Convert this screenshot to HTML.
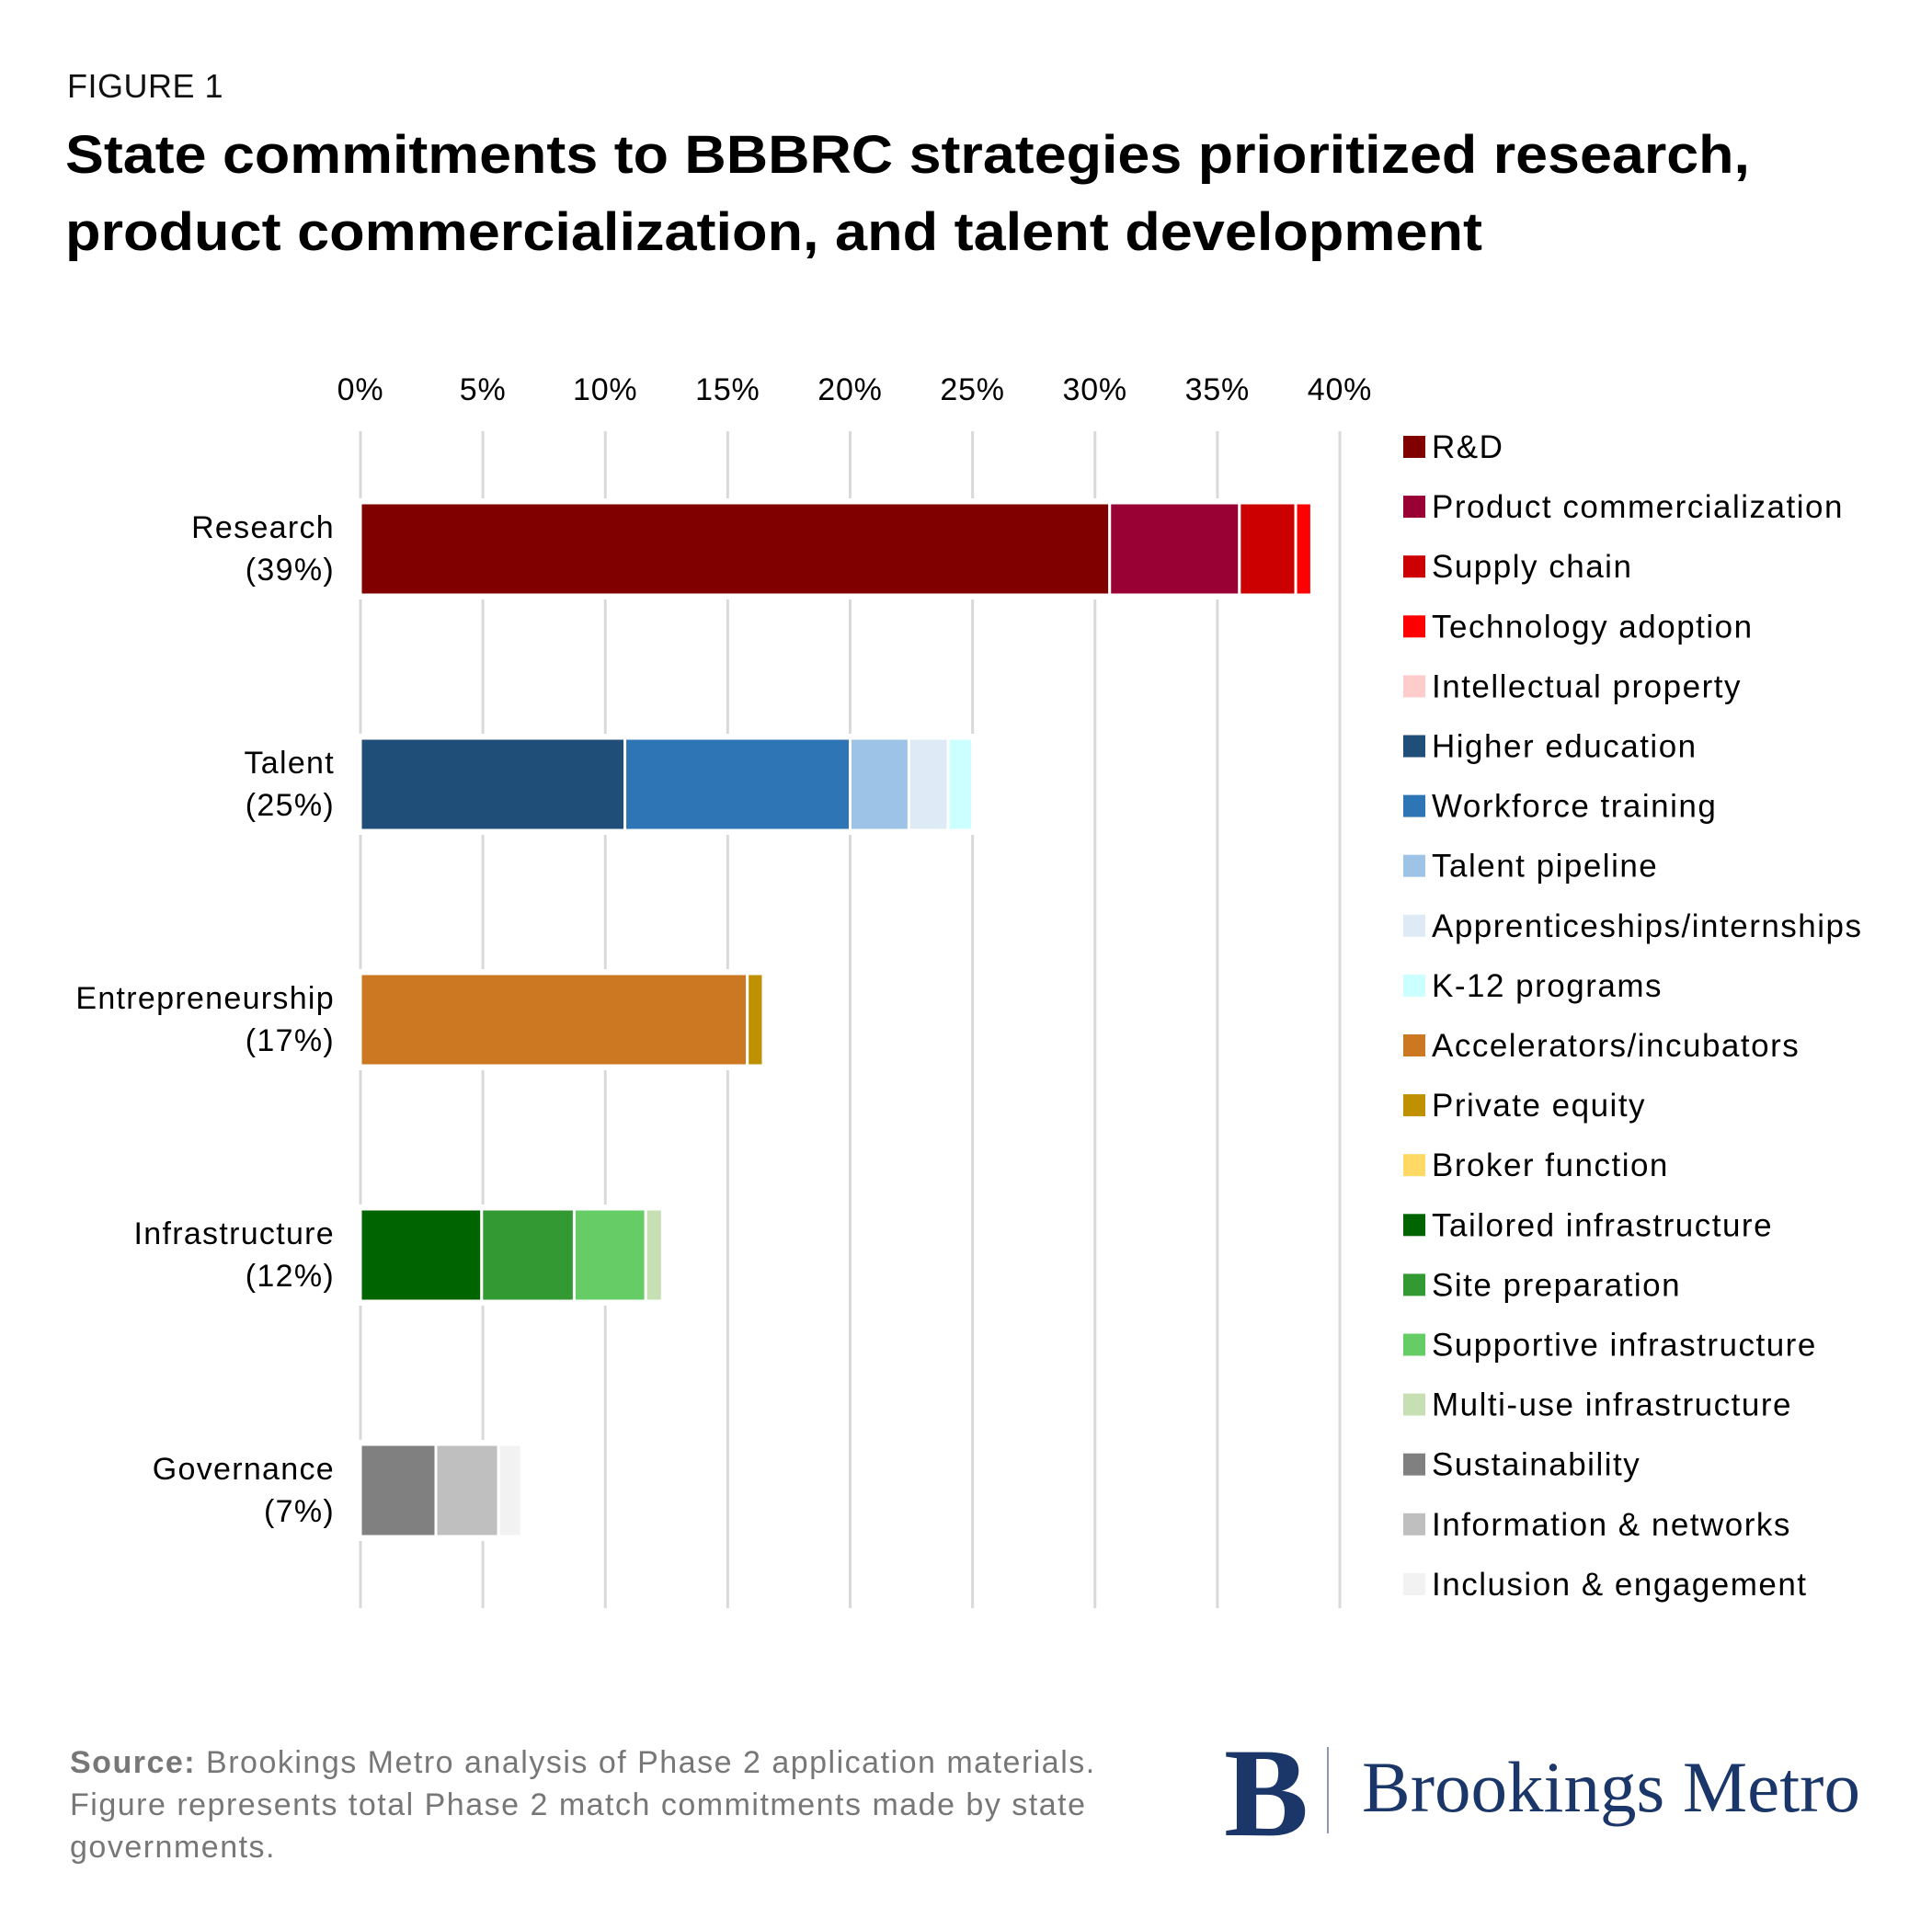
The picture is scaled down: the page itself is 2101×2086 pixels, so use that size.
<!DOCTYPE html>
<html><head><meta charset="utf-8"><style>
html,body{margin:0;padding:0;background:#fff;}
svg{display:block;font-family:"Liberation Sans",Arial,sans-serif;}
</style></head><body>
<svg id="chart" width="2101" height="2086" viewBox="0 0 2101 2086" xmlns="http://www.w3.org/2000/svg">
<rect width="2101" height="2086" fill="#fff"/>
<text x="73" y="106" font-size="36" fill="#111" letter-spacing="0.5">FIGURE 1</text>
<text x="71" y="188" font-size="58" font-weight="bold" fill="#000" textLength="1832" lengthAdjust="spacingAndGlyphs">State commitments to BBBRC strategies prioritized research,</text>
<text x="71" y="272" font-size="58" font-weight="bold" fill="#000" textLength="1541" lengthAdjust="spacingAndGlyphs">product commercialization, and talent development</text>
<g id="grid"></g>
<g id="xticks"></g>
<g id="bars"></g>
<g id="cats"></g>
<g id="legend"></g>
<text x="76" y="1928" font-size="34" fill="#777" letter-spacing="1.5"><tspan font-weight="bold">Source:</tspan> Brookings Metro analysis of Phase 2 application materials.</text>
<text x="76" y="1974" font-size="34" fill="#777" letter-spacing="1.5">Figure represents total Phase 2 match commitments made by state</text>
<text x="76" y="2020" font-size="34" fill="#777" letter-spacing="1.5">governments.</text>
<g>
<text x="1331" y="1996" font-family="Liberation Serif,serif" font-size="138" font-weight="bold" fill="#1b3668">B</text>
<rect x="1443" y="1900" width="2" height="94" fill="#8a9ab5"/>
<text x="1481" y="1970" font-family="Liberation Serif,serif" font-size="78" fill="#1b3668" textLength="542" lengthAdjust="spacingAndGlyphs">Brookings Metro</text>
</g>
</svg>
<script>
const categories = ["Research", "Talent", "Entrepreneurship", "Infrastructure", "Governance"];
const categoryTotals = ["39%", "25%", "17%", "12%", "7%"];
const seriesNames = [
 ["R&D","Product commercialization","Supply chain","Technology adoption","Intellectual property"],
 ["Higher education","Workforce training","Talent pipeline","Apprenticeships/internships","K-12 programs"],
 ["Accelerators/incubators","Private equity","Broker function"],
 ["Tailored infrastructure","Site preparation","Supportive infrastructure","Multi-use infrastructure"],
 ["Sustainability","Information & networks","Inclusion & engagement"]
];
const researchValues = [30.6, 5.3, 2.3, 0.65, 0.0];
const talentValues = [10.8, 9.2, 2.4, 1.6, 1.0];
const entrepreneurshipValues = [15.8, 0.65, 0.0];
const infrastructureValues = [4.95, 3.78, 2.92, 0.68];
const governanceValues = [3.08, 2.56, 0.94];
const tickValues = [0, 5, 10, 15, 20, 25, 30, 35, 40];
const tickLabels = ["0%","5%","10%","15%","20%","25%","30%","35%","40%"];
const seriesColors = [
 ["#800000","#990033","#cc0000","#ff0000","#ffcccc"],
 ["#1f4e79","#2e75b6","#9dc3e6","#deebf7","#ccffff"],
 ["#cc7722","#bf9000","#ffd966"],
 ["#006400","#339933","#66cc66","#c6e0b4"],
 ["#808080","#bfbfbf","#f2f2f2"]
];
const allValues = [researchValues, talentValues, entrepreneurshipValues, infrastructureValues, governanceValues];

const NS = "http://www.w3.org/2000/svg";
const x0 = 392, x1 = 1457;
const xScale = v => x0 + (v / 40) * (x1 - x0);
const rowTop = i => 547 + i * 256;
const barH = 100;
function mk(tag, attrs, parent) {
  const e = document.createElementNS(NS, tag);
  for (const k in attrs) e.setAttribute(k, attrs[k]);
  parent.appendChild(e);
  return e;
}
const grid = document.getElementById('grid');
const xt = document.getElementById('xticks');
tickValues.forEach((t, i) => {
  const l = mk('line', {x1: xScale(t), x2: xScale(t), y1: 469, y2: 1749, stroke: '#d9d9d9', 'stroke-width': 3}, grid);
  
  
  const tx = mk('text', {x: xScale(t), y: 435, 'font-size': 34, 'text-anchor': 'middle', fill: '#000', 'letter-spacing': 0.8}, xt);
  tx.textContent = tickLabels[i];
  
  
});
const bars = document.getElementById('bars');
const cats = document.getElementById('cats');
allValues.forEach((vals, i) => {
  const y = rowTop(i);
  const total = vals.reduce((a, b) => a + b, 0);
  const bg = mk('rect', {x: xScale(0) - 4, y: y - 5, width: xScale(total) - xScale(0) + 8, height: barH + 10, fill: '#fff'}, bars);
  
  
  let acc = 0;
  vals.forEach((v, j) => {
    if (v > 0) {
      const r = mk('rect', {x: xScale(acc), y: y, width: xScale(acc + v) - xScale(acc), height: barH, fill: seriesColors[i][j], stroke: '#fff', 'stroke-width': 3}, bars);
      
      
    }
    acc += v;
  });
  const t1 = mk('text', {x: 364, y: y + 38, 'font-size': 34, 'text-anchor': 'end', fill: '#000', 'letter-spacing': 1.3}, cats);
  t1.textContent = categories[i];
  
  
  const t2 = mk('text', {x: 364, y: y + 84, 'font-size': 34, 'text-anchor': 'end', fill: '#000', 'letter-spacing': 1.3}, cats);
  t2.textContent = '(' + categoryTotals[i] + ')';
  
  
});
const lg = document.getElementById('legend');
let k = 0;
seriesNames.forEach((grp, i) => grp.forEach((n, j) => {
  const by = 498 + k * 65.1;
  const g = mk('g', {}, lg);
  
  
  mk('rect', {x: 1526, y: by - 24, width: 24, height: 24, fill: seriesColors[i][j]}, g);
  const t = mk('text', {x: 1557, y: by, 'font-size': 35, fill: '#000', 'letter-spacing': 1.5}, g);
  t.textContent = n;
  k++;
}));
</script>
</body></html>
